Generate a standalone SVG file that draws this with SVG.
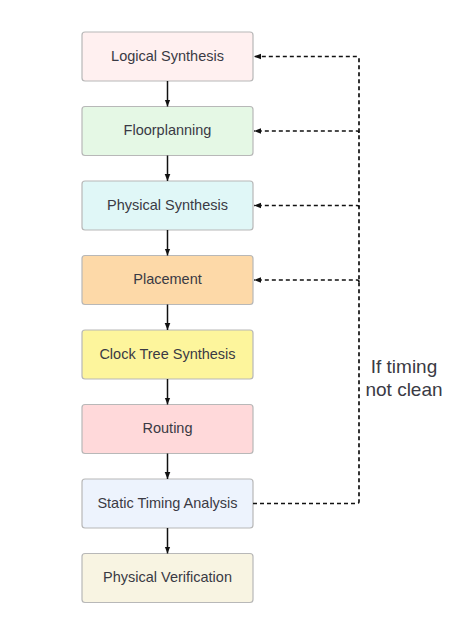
<svg xmlns="http://www.w3.org/2000/svg" width="474" height="642" viewBox="0 0 474 642">
<defs>
<marker id="ah" viewBox="0 0 10 10" refX="10" refY="5" markerWidth="7" markerHeight="7" orient="auto" markerUnits="userSpaceOnUse"><path d="M0,1 L10,5 L0,9 Z" fill="#111"/></marker>
</defs>
<style>
.box{stroke:#b8b8b8;stroke-width:1.2}
.lbl{font-family:"Liberation Sans",Arial,sans-serif;font-size:14.5px;fill:#3a3a44;text-anchor:middle;dominant-baseline:central}
.solid{stroke:#111;stroke-width:1.5;fill:none}
.dash{stroke:#111;stroke-width:1.7;fill:none;stroke-dasharray:4 3}
.note{font-family:"Liberation Sans",Arial,sans-serif;font-size:19px;fill:#3a3a44;text-anchor:middle}
</style>
<rect width="474" height="642" fill="#ffffff"/>
<g id="n1"><rect class="box" x="82" y="32" width="171" height="49" rx="3" fill="#fff0f0"/><text class="lbl" x="167.5" y="55.5">Logical Synthesis</text></g>
<g id="n2"><rect class="box" x="82" y="106.5" width="171" height="49" rx="3" fill="#e5f8e5"/><text class="lbl" x="167.5" y="130">Floorplanning</text></g>
<g id="n3"><rect class="box" x="82" y="181" width="171" height="49" rx="3" fill="#e0f7f7"/><text class="lbl" x="167.5" y="204.5">Physical Synthesis</text></g>
<g id="n4"><rect class="box" x="82" y="255.5" width="171" height="49" rx="3" fill="#fdd9a8"/><text class="lbl" x="167.5" y="279">Placement</text></g>
<g id="n5"><rect class="box" x="82" y="330" width="171" height="49" rx="3" fill="#fdf59c"/><text class="lbl" x="167.5" y="353.5">Clock Tree Synthesis</text></g>
<g id="n6"><rect class="box" x="82" y="404.5" width="171" height="49" rx="3" fill="#ffd9da"/><text class="lbl" x="167.5" y="428">Routing</text></g>
<g id="n7"><rect class="box" x="82" y="479" width="171" height="49" rx="3" fill="#edf3fd"/><text class="lbl" x="167.5" y="502.5">Static Timing Analysis</text></g>
<g id="n8"><rect class="box" x="82" y="553.5" width="171" height="49" rx="3" fill="#f8f4e2"/><text class="lbl" x="167.5" y="577">Physical Verification</text></g>
<g id="connectors">
<line class="solid" x1="167.5" y1="81" x2="167.5" y2="106.5" marker-end="url(#ah)"/>
<line class="solid" x1="167.5" y1="155.5" x2="167.5" y2="181" marker-end="url(#ah)"/>
<line class="solid" x1="167.5" y1="230" x2="167.5" y2="255.5" marker-end="url(#ah)"/>
<line class="solid" x1="167.5" y1="304.5" x2="167.5" y2="330" marker-end="url(#ah)"/>
<line class="solid" x1="167.5" y1="379" x2="167.5" y2="404.5" marker-end="url(#ah)"/>
<line class="solid" x1="167.5" y1="453.5" x2="167.5" y2="479" marker-end="url(#ah)"/>
<line class="solid" x1="167.5" y1="528" x2="167.5" y2="553.5" marker-end="url(#ah)"/>
<path class="dash" d="M253,503.5 H357 Q359,503.5 359,501.5 V58 Q359,56.5 357,56.5 H254" marker-end="url(#ah)"/>
<path class="dash" d="M359,133 Q359,131 357,131 H254" marker-end="url(#ah)"/>
<path class="dash" d="M359,207.5 Q359,205.5 357,205.5 H254" marker-end="url(#ah)"/>
<path class="dash" d="M359,282 Q359,280 357,280 H254" marker-end="url(#ah)"/>
<text class="note" x="404" y="373">If timing</text>
<text class="note" x="404" y="396">not clean</text>
</g>
</svg>
